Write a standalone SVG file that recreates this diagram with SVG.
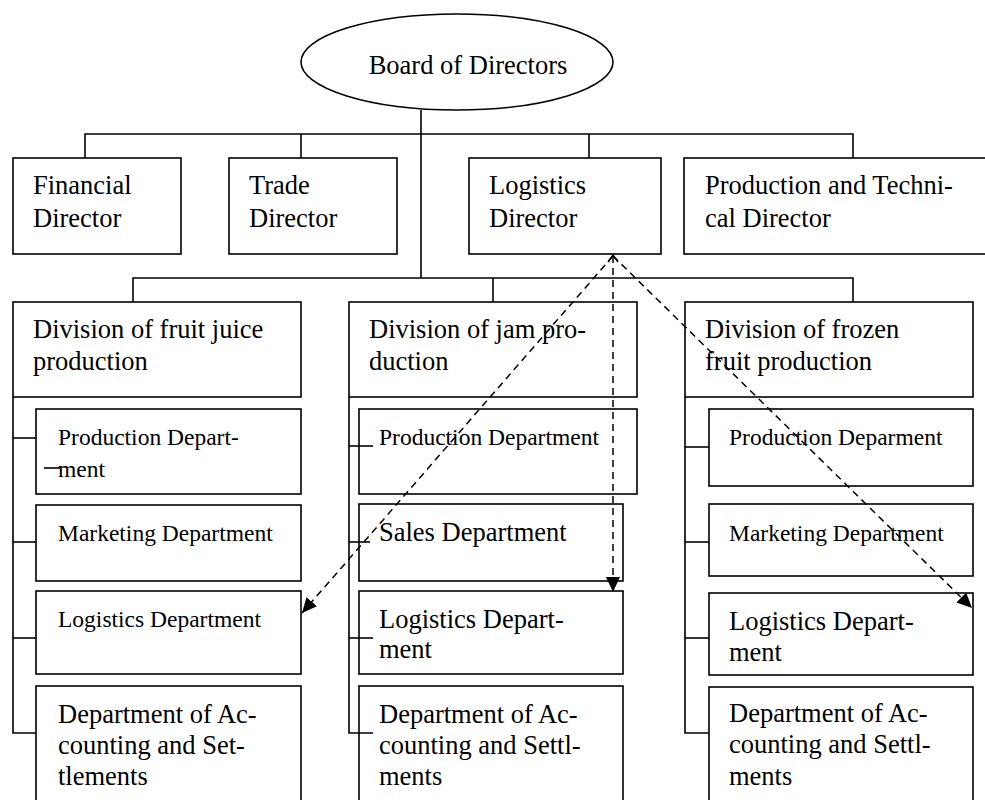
<svg xmlns="http://www.w3.org/2000/svg" width="985" height="800" viewBox="0 0 985 800">
<defs>
<style>
.bx{fill:none;stroke:#000;stroke-width:1.6}
.ln{fill:none;stroke:#000;stroke-width:1.6}
.ds{fill:none;stroke:#000;stroke-width:1.5;stroke-dasharray:7 5}
text{font-family:"Liberation Serif","Times New Roman",serif;fill:#000}
.L{font-size:26.5px}
.S{font-size:23.5px}
</style>
<marker id="ah" markerUnits="userSpaceOnUse" markerWidth="16" markerHeight="14" refX="15" refY="7" orient="auto">
<path d="M0,0 L15,7 L0,14 z" fill="#000"/>
</marker>
</defs>
<rect width="985" height="800" fill="#fff"/>

<g id="connectors">
<line class="ln" x1="421" y1="110" x2="421" y2="278"/>
<polyline class="ln" points="85,158 85,134 853,134 853,158"/>
<line class="ln" x1="301" y1="134" x2="301" y2="158"/>
<line class="ln" x1="589" y1="134" x2="589" y2="158"/>
<polyline class="ln" points="133,302 133,278 853,278 853,302"/>
<line class="ln" x1="493" y1="278" x2="493" y2="302"/>
<polyline class="ln" points="13,397 13,733 36,733"/>
<line class="ln" x1="13" y1="438" x2="36" y2="438"/>
<line class="ln" x1="13" y1="542" x2="36" y2="542"/>
<line class="ln" x1="13" y1="638" x2="36" y2="638"/>
<line class="ln" x1="44" y1="468" x2="60" y2="468"/>
<polyline class="ln" points="349,397 349,733 373,733"/>
<line class="ln" x1="349" y1="446" x2="373" y2="446"/>
<line class="ln" x1="349" y1="542" x2="370" y2="542"/>
<line class="ln" x1="349" y1="638" x2="373" y2="638"/>
<polyline class="ln" points="685,397 685,733 709,733"/>
<line class="ln" x1="685" y1="447" x2="709" y2="447"/>
<line class="ln" x1="685" y1="542" x2="709" y2="542"/>
<line class="ln" x1="685" y1="638" x2="709" y2="638"/>
</g>

<g id="board">
<ellipse class="bx" cx="457" cy="62" rx="156" ry="48"/>
<text class="L" x="468" y="74" text-anchor="middle">Board of Directors</text>
</g>

<g id="financial">
<rect class="bx" x="13" y="158" width="168" height="96"/>
<text class="L" x="33" y="194">Financial</text>
<text class="L" x="33" y="227">Director</text>
</g>
<g id="trade">
<rect class="bx" x="229" y="158" width="168" height="96"/>
<text class="L" x="249" y="194">Trade</text>
<text class="L" x="249" y="227">Director</text>
</g>
<g id="logistics-director">
<rect class="bx" x="469" y="158" width="192" height="96"/>
<text class="L" x="489" y="194">Logistics</text>
<text class="L" x="489" y="227">Director</text>
</g>
<g id="production-technical">
<rect class="bx" x="684" y="158" width="310" height="96"/>
<text class="L" x="705" y="194">Production and Techni-</text>
<text class="L" x="705" y="227">cal Director</text>
</g>

<g id="div-juice">
<rect class="bx" x="13" y="302" width="288" height="95"/>
<text class="L" x="33" y="338">Division of fruit juice</text>
<text class="L" x="33" y="370">production</text>
</g>
<g id="div-jam">
<rect class="bx" x="349" y="302" width="288" height="95"/>
<text class="L" x="369" y="338">Division of jam pro-</text>
<text class="L" x="369" y="370">duction</text>
</g>
<g id="div-frozen">
<rect class="bx" x="685" y="302" width="288" height="95"/>
<text class="L" x="705" y="338">Division of frozen</text>
<text class="L" x="705" y="370">fruit production</text>
</g>

<g id="juice-production">
<rect class="bx" x="36" y="409" width="265" height="85"/>
<text class="S" x="58" y="445">Production Depart-</text>
<text class="S" x="58" y="477">ment</text>
</g>
<g id="juice-marketing">
<rect class="bx" x="36" y="505" width="265" height="76"/>
<text class="S" x="58" y="541">Marketing Department</text>
</g>
<g id="juice-logistics">
<rect class="bx" x="36" y="591" width="265" height="83"/>
<text class="S" x="58" y="627">Logistics Department</text>
</g>
<g id="juice-accounting">
<rect class="bx" x="36" y="686" width="265" height="130"/>
<text class="L" x="58" y="723">Department of Ac-</text>
<text class="L" x="58" y="754">counting and Set-</text>
<text class="L" x="58" y="785">tlements</text>
</g>

<g id="jam-production">
<rect class="bx" x="359" y="409" width="278" height="85"/>
<text class="S" x="379" y="445">Production Department</text>
</g>
<g id="jam-sales">
<rect class="bx" x="359" y="504" width="264" height="77"/>
<text class="L" x="379" y="541">Sales Department</text>
</g>
<g id="jam-logistics">
<rect class="bx" x="359" y="591" width="264" height="83"/>
<text class="L" x="379" y="628">Logistics Depart-</text>
<text class="L" x="379" y="658">ment</text>
</g>
<g id="jam-accounting">
<rect class="bx" x="359" y="686" width="264" height="130"/>
<text class="L" x="379" y="723">Department of Ac-</text>
<text class="L" x="379" y="754">counting and Settl-</text>
<text class="L" x="379" y="785">ments</text>
</g>

<g id="frozen-production">
<rect class="bx" x="709" y="409" width="264" height="77"/>
<text class="S" x="729" y="445">Production Deparment</text>
</g>
<g id="frozen-marketing">
<rect class="bx" x="709" y="504" width="264" height="72"/>
<text class="S" x="729" y="541">Marketing Department</text>
</g>
<g id="frozen-logistics">
<rect class="bx" x="709" y="593" width="264" height="82"/>
<text class="L" x="729" y="630">Logistics Depart-</text>
<text class="L" x="729" y="661">ment</text>
</g>
<g id="frozen-accounting">
<rect class="bx" x="709" y="687" width="264" height="130"/>
<text class="L" x="729" y="722">Department of Ac-</text>
<text class="L" x="729" y="753">counting and Settl-</text>
<text class="L" x="729" y="785">ments</text>
</g>

<g id="dashed-connectors">
<line class="ds" x1="613" y1="256" x2="302" y2="613" marker-end="url(#ah)"/>
<line class="ds" x1="613" y1="256" x2="613" y2="592" marker-end="url(#ah)"/>
<line class="ds" x1="613" y1="256" x2="972" y2="608" marker-end="url(#ah)"/>
<polyline class="ln" style="stroke-width:1.4" points="608,262 613,255 618,262"/>
</g>
</svg>
